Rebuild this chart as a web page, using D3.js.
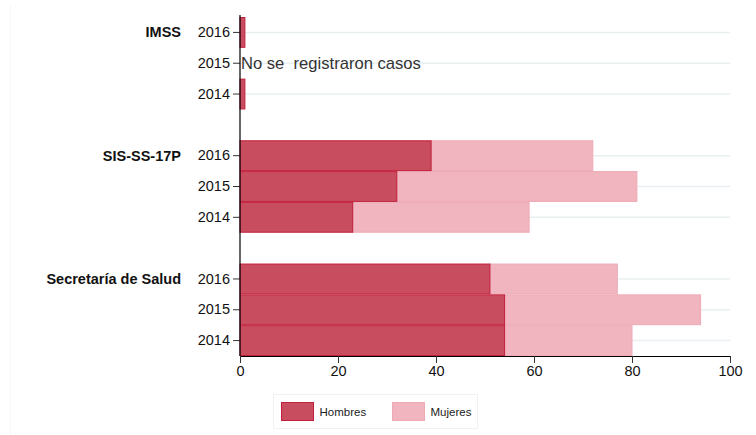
<!DOCTYPE html>
<html>
<head>
<meta charset="utf-8">
<script src="https://cdn.jsdelivr.net/npm/d3@7/dist/d3.min.js"></script>
<style>
  body { margin: 0; background: #fff; }
  svg { display: block; font-family: Arial, "Liberation Sans", sans-serif; }
</style>
</head>
<body>
<svg id="chart" width="756" height="435"></svg>
<script>
// data
const groups = ['IMSS', 'SIS-SS-17P', 'Secretaría de Salud'];
const years = ['2016', '2015', '2014'];
const hombres = [
    [1, null, 1],     // IMSS
    [39, 32, 23],     // SIS-SS-17P
    [51, 54, 54]      // Secretaría de Salud
];
const mujeres = [
    [0, null, 0],
    [33, 49, 36],
    [26, 40, 26]
];
const xTicks = [0, 20, 40, 60, 80, 100];
const seriesNames = ['Hombres', 'Mujeres'];
const noDataLabel = 'No se  registraron casos';

const colors = {
    hombresFill: '#c84d5e',
    hombresStroke: '#c21f3d',
    mujeresFill: '#f0b5bf',
    mujeresStroke: '#edaab5',
    grid: '#e9eff1'
};

const svg = d3.select('#chart');
const margin = { left: 240, right: 26, top: 17, bottom: 79 };
const W = 756, H = 435;

// slot keys: 3 per group + a blank slot between groups
const slots = [];
groups.forEach((g, gi) => {
    years.forEach(y => slots.push(g + '|' + y));
    if (gi < groups.length - 1) slots.push('gap' + gi);
});

const x = d3.scaleLinear().domain([0, 100]).range([margin.left, W - margin.right]);
const y = d3.scaleBand().domain(slots).range([margin.top, H - margin.bottom]).padding(0);

// faint frame line on the left
svg.append('line')
    .attr('x1', 10.5).attr('x2', 10.5).attr('y1', 5).attr('y2', H)
    .attr('stroke', '#f7f7f7');

// rows
const rows = [];
groups.forEach((g, gi) => {
    years.forEach((yr, yi) => {
        rows.push({ group: g, year: yr, key: g + '|' + yr, h: hombres[gi][yi], m: mujeres[gi][yi] });
    });
});

// gridlines
svg.append('g').selectAll('line')
    .data(rows)
    .join('line')
    .attr('x1', x(0)).attr('x2', x(100))
    .attr('y1', d => y(d.key) + y.bandwidth() / 2)
    .attr('y2', d => y(d.key) + y.bandwidth() / 2)
    .attr('stroke', colors.grid)
    .attr('stroke-width', 1.5);

const withData = rows.filter(d => d.h !== null);

// Mujeres bars (stacked after hombres)
svg.append('g').selectAll('rect')
    .data(withData.filter(d => d.m > 0))
    .join('rect')
    .attr('x', d => x(d.h))
    .attr('y', d => y(d.key) + 0.5)
    .attr('width', d => x(d.h + d.m) - x(d.h))
    .attr('height', y.bandwidth() - 1)
    .attr('fill', colors.mujeresFill)
    .attr('stroke', colors.mujeresStroke)
    .attr('stroke-width', 1);

// Hombres bars
svg.append('g').selectAll('rect')
    .data(withData)
    .join('rect')
    .attr('x', x(0))
    .attr('y', d => y(d.key) + 0.5)
    .attr('width', d => x(d.h) - x(0))
    .attr('height', y.bandwidth() - 1)
    .attr('fill', colors.hombresFill)
    .attr('stroke', colors.hombresStroke)
    .attr('stroke-width', 1);

// no data text
rows.filter(d => d.h === null).forEach(d => {
    svg.append('text')
        .attr('x', x(0) + 1)
        .attr('y', y(d.key) + y.bandwidth() / 2 + 6)
        .attr('font-size', 16.6)
        .attr('fill', '#333')
        .style('white-space', 'pre')
        .text(noDataLabel);
});

// y axis
const yAxis = d3.axisLeft(y)
    .tickValues(rows.map(d => d.key))
    .tickFormat(k => k.split('|')[1])
    .tickSize(7)
    .tickPadding(3);
const yg = svg.append('g')
    .attr('transform', `translate(${x(0)},0)`)
    .call(yAxis);
yg.select('.domain').remove();
yg.selectAll('.tick line').attr('stroke', '#333');
yg.selectAll('.tick text').attr('font-size', 14.5).attr('fill', '#111');
svg.append('line')
    .attr('x1', x(0)).attr('x2', x(0))
    .attr('y1', 15).attr('y2', y.range()[1])
    .attr('stroke', '#000').attr('stroke-width', 1.2);

// group labels
svg.append('g').selectAll('text')
    .data(groups)
    .join('text')
    .attr('x', 181)
    .attr('y', g => y(g + '|' + years[0]) + y.bandwidth() / 2 + 5)
    .attr('text-anchor', 'end')
    .attr('font-size', 14.5)
    .attr('font-weight', 'bold')
    .attr('fill', '#111')
    .text(g => g);

// x axis
const xAxis = d3.axisBottom(x).tickValues(xTicks).tickSize(7).tickPadding(3).tickSizeOuter(0);
const xg = svg.append('g')
    .attr('transform', `translate(0,${y.range()[1]})`)
    .call(xAxis);
xg.select('.domain').attr('stroke', '#000').attr('stroke-width', 1.2);
xg.selectAll('.tick line').attr('stroke', '#333');
xg.selectAll('.tick text').attr('font-size', 14.5).attr('fill', '#111');

// legend
const legend = svg.append('g').attr('transform', 'translate(273.5,394.5)');
legend.append('rect')
    .attr('width', 204).attr('height', 34)
    .attr('fill', '#fff').attr('stroke', '#eef2f4');
const legItems = [
    { name: seriesNames[0], fill: colors.hombresFill, stroke: colors.hombresStroke, dx: 8 },
    { name: seriesNames[1], fill: colors.mujeresFill, stroke: colors.mujeresStroke, dx: 119 }
];
legItems.forEach(it => {
    legend.append('rect')
        .attr('x', it.dx).attr('y', 8)
        .attr('width', 32).attr('height', 18)
        .attr('fill', it.fill).attr('stroke', it.stroke);
    legend.append('text')
        .attr('x', it.dx + 38).attr('y', 21)
        .attr('font-size', 11.5)
        .attr('fill', '#222')
        .text(it.name);
});
</script>
</body>
</html>
